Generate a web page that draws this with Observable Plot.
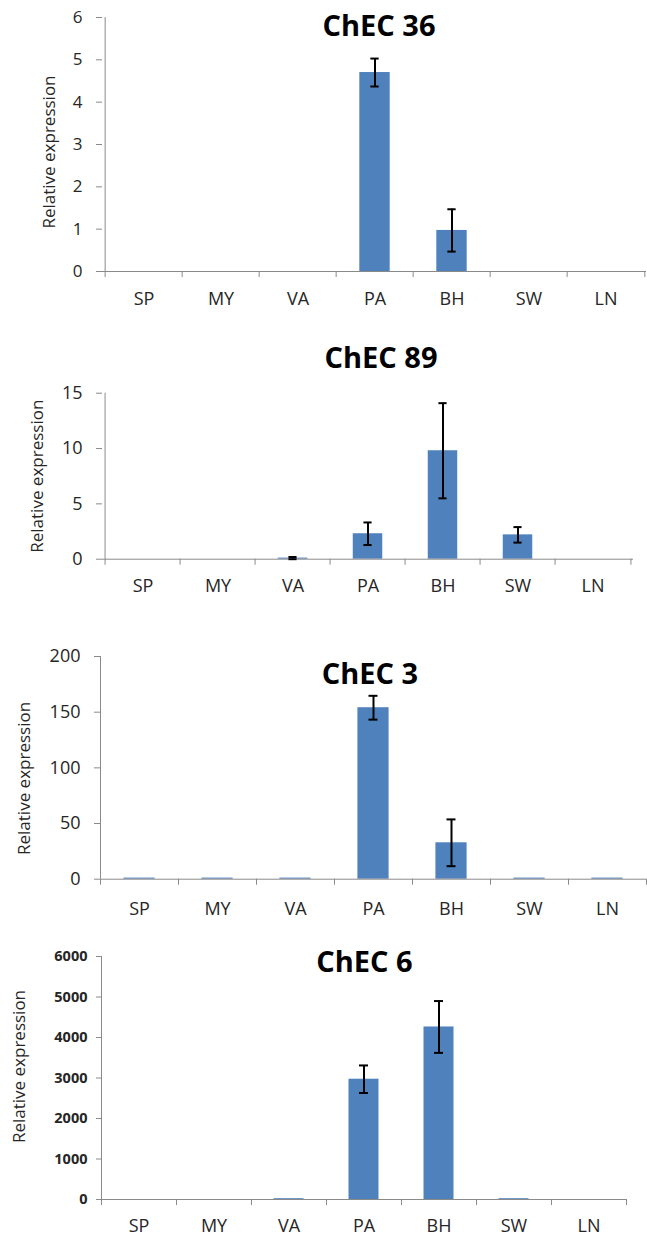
<!DOCTYPE html>
<html>
<head>
<meta charset="utf-8">
<script src="https://cdn.jsdelivr.net/npm/d3@7"></script>
<script src="https://cdn.jsdelivr.net/npm/@observablehq/plot@0.6"></script>
<style>
  html, body { margin: 0; padding: 0; background: #fff; }
  body { width: 647px; height: 1237px; position: relative; overflow: hidden; font-family: "Open Sans", sans-serif; }
  .panel { position: absolute; left: 0; }
  .panel svg { overflow: visible; }
</style>
</head>
<body>
<div id="p1" class="panel"></div>
<div id="p2" class="panel"></div>
<div id="p3" class="panel"></div>
<div id="p4" class="panel"></div>
<script>
// ---- data ----
const categories = ["SP", "MY", "VA", "PA", "BH", "SW", "LN"];
const yLabel = "Relative expression";

const title36 = "ChEC 36";
const chec36 = [0, 0, 0, 4.7, 0.97, 0, 0];
const chec36Err = [0, 0, 0, 0.33, 0.5, 0, 0];
const ticks36 = [0, 1, 2, 3, 4, 5, 6];

const title89 = "ChEC 89";
const chec89 = [0, 0, 0.1, 2.3, 9.8, 2.2, 0];
const chec89Err = [0, 0, 0.1, 1.02, 4.3, 0.7, 0];
const ticks89 = [0, 5, 10, 15];

const title3 = "ChEC 3";
const chec3 = [1, 1, 1, 154, 32.7, 1, 1];
const chec3Err = [0, 0, 0, 10.7, 21, 0, 0];
const ticks3 = [0, 50, 100, 150, 200];

const title6 = "ChEC 6";
const chec6 = [0, 0, 20, 2970, 4260, 20, 0];
const chec6Err = [0, 0, 0, 340, 640, 0, 0];
const ticks6 = [0, 1000, 2000, 3000, 4000, 5000, 6000];

// ---- style ----
const barColor = "#4F81BD";
const axisGray = "#8a8a8a";
const textColor = "#262626";
const W = 647;
const plainNumber = d3.format("d");

function panel(el, cfg) {
  const rows = categories.map((c, i) => ({cat: c, value: cfg.values[i], err: cfg.errs[i]}));
  const errRows = rows.filter(d => d.err > 0);
  const frameW = W - cfg.ml - cfg.mr;
  const frameH = cfg.h - cfg.mt - cfg.mb;
  const bw = frameW / categories.length;
  const barInset = bw * 0.3;
  const capInset = (bw - 9) / 2;
  const chart = Plot.plot({
    width: W,
    height: cfg.h,
    marginTop: cfg.mt,
    marginBottom: cfg.mb,
    marginLeft: cfg.ml,
    marginRight: cfg.mr,
    style: {fontFamily: "'Open Sans', sans-serif", background: "transparent", color: textColor},
    x: {domain: categories, padding: 0},
    y: {domain: [cfg.ticks[0], cfg.ticks[cfg.ticks.length - 1]]},
    marks: [
      Plot.barY(rows, {x: "cat", y: "value", fill: barColor, insetLeft: barInset, insetRight: barInset}),
      Plot.ruleY([0], {stroke: axisGray, strokeWidth: 1}),
      Plot.ruleX([categories[0]], {x: d => d, dx: -bw / 2, stroke: axisGray, strokeWidth: 1}),
      Plot.tickX(categories, {x: d => d, dx: -bw / 2, insetTop: frameH, insetBottom: -6, stroke: axisGray}),
      Plot.tickX([categories[categories.length - 1]], {x: d => d, dx: bw / 2, insetTop: frameH, insetBottom: -6, stroke: axisGray}),
      Plot.ruleX(errRows, {x: "cat", y1: d => d.value - d.err, y2: d => d.value + d.err, stroke: "#000", strokeWidth: 2}),
      Plot.tickY(errRows, {x: "cat", y: d => d.value + d.err, insetLeft: capInset, insetRight: capInset, stroke: "#000", strokeWidth: 2}),
      Plot.tickY(errRows, {x: "cat", y: d => d.value - d.err, insetLeft: capInset, insetRight: capInset, stroke: "#000", strokeWidth: 2}),
      Plot.axisY(cfg.ticks, {tickSize: cfg.tickSize, tickPadding: cfg.tickPadding, tickFormat: plainNumber, stroke: axisGray, fill: textColor,
        fontSize: cfg.tickFont, fontWeight: cfg.tickWeight, label: null}),
      Plot.axisX({tickSize: 0, tickPadding: cfg.xPad, fill: textColor, fontSize: 18, label: null}),
      Plot.text([cfg.title], {frameAnchor: "top", text: d => d, dx: cfg.tdx, dy: cfg.tdy, lineAnchor: "middle",
        fontSize: 29, fontWeight: "bold", fill: "#000"}),
      Plot.text([yLabel], {frameAnchor: "left", text: d => d, rotate: -90, dx: cfg.ldx, dy: cfg.ldy, lineAnchor: "middle",
        textAnchor: "middle", fontSize: 17, fill: textColor})
    ]
  });
  el.style.top = cfg.top + "px";
  el.appendChild(chart);
}

panel(document.getElementById("p1"), {
  title: title36, values: chec36, errs: chec36Err, ticks: ticks36,
  top: 0, h: 320, mt: 17, mb: 49, ml: 102, mr: 1,
  tickSize: 6, tickPadding: 14, tickFont: 17, tickWeight: "normal", xPad: 21,
  tdx: 4.5, tdy: 9, ldx: -53, ldy: 7.5
});
panel(document.getElementById("p2"), {
  title: title89, values: chec89, errs: chec89Err, ticks: ticks89,
  top: 320, h: 290, mt: 72.7, mb: 51.3, ml: 102, mr: 14,
  tickSize: 6, tickPadding: 14, tickFont: 18, tickWeight: "normal", xPad: 20,
  tdx: 13, tdy: -34, ldx: -65, ldy: 0
});
panel(document.getElementById("p3"), {
  title: title3, values: chec3, errs: chec3Err, ticks: ticks3,
  top: 610, h: 315, mt: 46, mb: 46.3, ml: 100, mr: 1,
  tickSize: 6, tickPadding: 14, tickFont: 18, tickWeight: "normal", xPad: 23,
  tdx: -3.5, tdy: 18, ldx: -76, ldy: 10.6
});
panel(document.getElementById("p4"), {
  title: title6, values: chec6, errs: chec6Err, ticks: ticks6,
  top: 925, h: 312, mt: 31, mb: 38, ml: 101, mr: 21,
  tickSize: 5, tickPadding: 9, tickFont: 14.5, tickWeight: "bold", xPad: 19.5,
  tdx: 0.5, tdy: 6, ldx: -82.4, ldy: -11.5
});
</script>
</body>
</html>
